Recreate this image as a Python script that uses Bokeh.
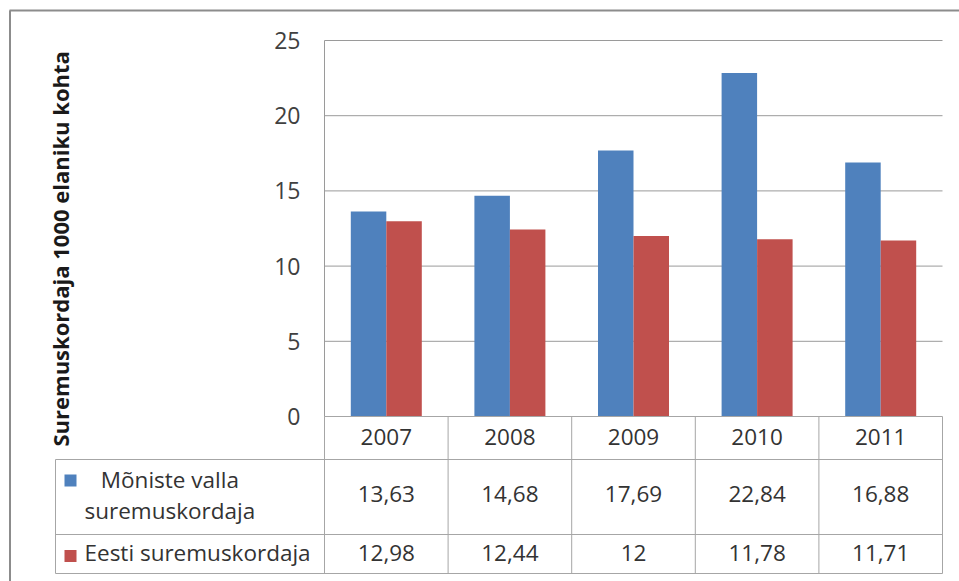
import textwrap
from math import pi
import numpy as np
from bokeh.plotting import figure
from bokeh.models import Range1d, LinearAxis, FixedTicker, Label
from bokeh.embed import file_html
from bokeh.resources import INLINE
from bokeh.core.properties import value

# ---------------- data ----------------
years = ["2007", "2008", "2009", "2010", "2011"]
moniste = [13.63, 14.68, 17.69, 22.84, 16.88]
eesti = [12.98, 12.44, 12.0, 11.78, 11.71]
series_names = ["Mõniste valla suremuskordaja", "Eesti suremuskordaja"]
y_ticks = [0, 5, 10, 15, 20, 25]
y_title = "Suremuskordaja  1000 elaniku kohta"

# ---------------- style ----------------
BLUE = "#4F81BD"
RED = "#C0504D"
GRID = "#9a9a9a"
TABLE = "#a6a6a6"
BORDER = "#8c8c8c"
TXT = "#333333"
FONT = "Open Sans"
FS = "22.5px"

# ---------------- layout (pixels inside the figure) ----------------
W, H = 959, 581
PLOT_L, PLOT_R, PLOT_T, PLOT_B = 324, 942, 40, 416
ROW1_B, ROW2_B, ROW3_B = 459, 534, 573
TABLE_L = 55
n = len(years)
y_max = y_ticks[-1]
PX_X = (PLOT_R - PLOT_L) / n
PX_Y = (PLOT_B - PLOT_T) / y_max


def X(px):
    return (px - PLOT_L) / PX_X


def Y(py):
    return (PLOT_B - py) / PX_Y


def fmt(v):
    return f"{v:g}".replace(".", ",")


p = figure(width=W, height=H, output_backend="svg", toolbar_location=None, tools="",
           x_range=Range1d(X(0), X(W)), y_range=Range1d(Y(H), Y(0)),
           x_axis_location=None, y_axis_location=None, min_border=0)
p.outline_line_color = None
p.xgrid.visible = False
p.ygrid.visible = False
p.background_fill_color = "white"
p.border_fill_color = "white"

# outer chart border (left and top)
p.segment(x0=X(9.5), x1=X(9.5), y0=Y(10), y1=Y(H), line_color=BORDER, line_width=2)
p.segment(x0=X(9), x1=X(W), y0=Y(10), y1=Y(10), line_color=BORDER, line_width=2)

# gridlines
p.segment(x0=0, x1=n, y0=y_ticks[1:], y1=y_ticks[1:], line_color=GRID, line_width=1)

# bars
idx = np.arange(n)
bw = 35.5 / PX_X
p.vbar(x=idx + 0.5 - bw / 2, top=moniste, bottom=0, width=bw, fill_color=BLUE, line_color=None)
p.vbar(x=idx + 0.5 + bw / 2, top=eesti, bottom=0, width=bw, fill_color=RED, line_color=None)

# y axis
yaxis = LinearAxis(fixed_location=0, bounds=(0, y_max), ticker=FixedTicker(ticks=y_ticks),
                   axis_line_color=GRID, axis_line_width=1,
                   major_tick_in=0, major_tick_out=0, minor_tick_line_color=None,
                   major_label_standoff=24, major_label_text_font=FONT,
                   major_label_text_font_size="23px", major_label_text_color="#404040")
p.add_layout(yaxis, "left")

# y title
p.add_layout(Label(x=X(59), y=Y(245.5), text=y_title, angle=pi / 2, text_align="center",
                   text_baseline="middle", text_font=FONT, text_font_size="22px",
                   text_font_style="bold", text_color="#1a1a1a"))

# data table lines
p.segment(x0=0, x1=n, y0=0, y1=0, line_color=TABLE, line_width=1)
p.segment(x0=X(TABLE_L), x1=n, y0=[Y(ROW1_B), Y(ROW2_B), Y(ROW3_B)],
          y1=[Y(ROW1_B), Y(ROW2_B), Y(ROW3_B)], line_color=TABLE, line_width=1)
p.segment(x0=list(range(n + 1)), x1=list(range(n + 1)), y0=0, y1=Y(ROW3_B),
          line_color=TABLE, line_width=1)
p.segment(x0=X(TABLE_L), x1=X(TABLE_L), y0=Y(ROW1_B), y1=Y(ROW3_B), line_color=TABLE, line_width=1)

# table texts
text_kw = dict(text_font=value(FONT), text_font_size=FS, text_color=TXT,
               text_align="center", text_baseline="middle")
p.text(x=idx + 0.5, y=Y(436), text=years, **text_kw)
p.text(x=idx + 0.5, y=Y(493), text=[fmt(v) for v in moniste], **text_kw)
p.text(x=idx + 0.5, y=Y(552), text=[fmt(v) for v in eesti], **text_kw)

# legend keys + series names
p.scatter(x=[X(70), X(70)], y=[Y(480), Y(555.5)], marker="square", size=12,
          fill_color=[BLUE, RED], line_color=None)
labels = ["\n".join(textwrap.wrap(s, 20)) for s in series_names]
p.text(x=[X(84), X(84)], y=[Y(494), Y(552)], text=labels, anchor="center_left",
       text_font=value(FONT), text_font_size=FS, text_color=TXT,
       text_align="center", text_baseline="middle", text_line_height=1.0)

open("out.html", "w").write(file_html(p, INLINE))
